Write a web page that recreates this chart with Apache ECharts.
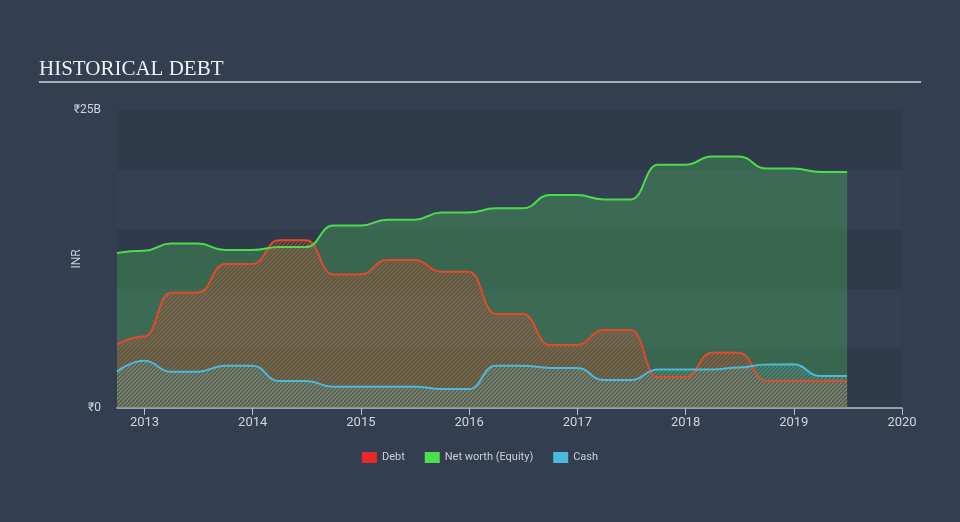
<!DOCTYPE html>
<html>
<head>
<meta charset="utf-8">
<script src="https://cdn.jsdelivr.net/npm/echarts@6/dist/echarts.min.js"></script>
<style>
  html, body { margin: 0; padding: 0; background: #333f50; }
  #chart { width: 960px; height: 522px; }
</style>
</head>
<body>
<div id="chart"></div>
<script>
// reporting dates (plateau start / end)
var dates = ['2012-09-30','2012-12-31','2013-03-31','2013-06-30','2013-09-30','2013-12-31',
  '2014-03-31','2014-06-30','2014-09-30','2014-12-31','2015-03-31','2015-06-30',
  '2015-09-30','2015-12-31','2016-03-31','2016-06-30','2016-09-30','2016-12-31',
  '2017-03-31','2017-06-30','2017-09-30','2017-12-31','2018-03-31','2018-06-30',
  '2018-09-30','2018-12-31','2019-03-31','2019-06-30'];
// values in ₹ billions
var debt = [5.34, 6.0, 9.67, 9.67, 12.08, 12.08, 14.07, 14.07, 11.21, 11.21, 12.42, 12.42,
  11.44, 11.44, 7.89, 7.89, 5.29, 5.29, 6.54, 6.54, 2.57, 2.57, 4.64, 4.64,
  2.29, 2.29, 2.29, 2.29];
var equity = [13.0, 13.2, 13.8, 13.8, 13.25, 13.25, 13.5, 13.5, 15.3, 15.3, 15.8, 15.8,
  16.4, 16.4, 16.75, 16.75, 17.87, 17.87, 17.5, 17.5, 20.4, 20.4, 21.1, 21.1,
  20.1, 20.1, 19.8, 19.8];
var cash = [3.05, 3.97, 3.05, 3.05, 3.55, 3.55, 2.26, 2.26, 1.79, 1.79, 1.79, 1.79,
  1.59, 1.59, 3.55, 3.55, 3.36, 3.36, 2.35, 2.35, 3.24, 3.24, 3.24, 3.4,
  3.65, 3.66, 2.68, 2.68];
var yearTicks = [2013, 2014, 2015, 2016, 2017, 2018, 2019, 2020];

// date string -> decimal year
function toYear(s) {
  var d = new Date(s + 'T00:00:00Z');
  var y = d.getUTCFullYear();
  var start = Date.UTC(y, 0, 1), end = Date.UTC(y + 1, 0, 1);
  return y + (d.getTime() - start) / (end - start);
}

function pairs(vals) {
  return dates.map(function (d, i) { return [toYear(d), vals[i]]; });
}

function hatch(color) {
  var c = document.createElement('canvas');
  c.width = 4; c.height = 4;
  var ctx = c.getContext('2d');
  ctx.strokeStyle = color;
  ctx.lineWidth = 1.3;
  ctx.beginPath();
  ctx.moveTo(0, 4); ctx.lineTo(4, 0);
  ctx.moveTo(-1, 1); ctx.lineTo(1, -1);
  ctx.moveTo(3, 5); ctx.lineTo(5, 3);
  ctx.stroke();
  return { image: c, repeat: 'repeat' };
}

var myChart = echarts.init(document.getElementById('chart'));
var lineBase = { type: 'line', smooth: 0.5, smoothMonotone: 'x', symbol: 'none' };

var option = {
  backgroundColor: '#333f50',
  animation: false,
  title: {
    text: 'HISTORICAL DEBT',
    left: 34, top: 54,
    textStyle: { fontFamily: 'Liberation Serif', fontWeight: 'normal', fontSize: 21, color: '#eef0f2' }
  },
  graphic: [{
    type: 'line', shape: { x1: 39, y1: 82, x2: 921, y2: 82 },
    style: { stroke: '#a9b0b8', lineWidth: 2 }
  }],
  legend: {
    bottom: 54, left: 'center',
    icon: 'rect', itemWidth: 15, itemHeight: 11, itemGap: 20,
    textStyle: { color: '#c8ced6', fontSize: 11, fontFamily: 'Roboto' },
    data: [
      { name: 'Debt', itemStyle: { color: '#e8282a' } },
      { name: 'Net worth (Equity)', itemStyle: { color: '#4be04b' } },
      { name: 'Cash', itemStyle: { color: '#4ab9dc' } }
    ]
  },
  grid: { left: 117, right: 58, top: 110, bottom: 114 },
  xAxis: {
    type: 'value',
    min: toYear('2012-09-30'), max: 2020,
    axisLine: { lineStyle: { color: '#b8c0c8', width: 1.5 } },
    axisTick: { show: true, length: 7, lineStyle: { color: '#b8c0c8' }, customValues: yearTicks },
    axisLabel: {
      color: '#d0d5dc', fontSize: 13, fontFamily: 'Roboto', margin: 8,
      customValues: yearTicks,
      formatter: function (v) { return String(Math.round(v)); }
    },
    splitLine: { show: false }
  },
  yAxis: {
    type: 'value', min: 0, max: 25, interval: 5,
    name: 'INR', nameLocation: 'middle', nameGap: 34, nameRotate: 90,
    nameMoveOverlap: false,
    nameTextStyle: { color: '#c8ced6', fontSize: 12, fontFamily: 'Roboto' },
    axisLine: { show: false }, axisTick: { show: false },
    axisLabel: {
      color: '#d0d5dc', fontSize: 12, fontFamily: 'Roboto', margin: 16,
      formatter: function (v) { return v === 0 ? '₹0' : (v === 25 ? '₹25B' : ''); }
    },
    splitLine: { show: false },
    splitArea: { show: true, areaStyle: { color: ['#2f3b4b', '#344152'] } }
  },
  series: [
    Object.assign({}, lineBase, {
      name: 'Net worth (Equity)', data: pairs(equity), z: 1,
      lineStyle: { width: 0 }, areaStyle: { color: 'rgba(78,182,89,0.35)', opacity: 1 }
    }),
    Object.assign({}, lineBase, {
      name: 'Debt', data: pairs(debt), z: 2,
      lineStyle: { width: 0 }, areaStyle: { color: hatch('rgba(215,78,50,0.65)'), opacity: 1 }
    }),
    Object.assign({}, lineBase, {
      name: 'Cash', data: pairs(cash), z: 3,
      lineStyle: { width: 0 }, areaStyle: { color: hatch('rgba(120,190,205,0.4)'), opacity: 1 }
    }),
    Object.assign({}, lineBase, {
      name: 'Debt', data: pairs(debt), z: 4,
      lineStyle: { color: '#e34a2c', width: 2 }, itemStyle: { color: '#e34a2c' }
    }),
    Object.assign({}, lineBase, {
      name: 'Net worth (Equity)', data: pairs(equity), z: 5,
      lineStyle: { color: '#4ddb4d', width: 2 }, itemStyle: { color: '#4ddb4d' }
    }),
    Object.assign({}, lineBase, {
      name: 'Cash', data: pairs(cash), z: 6,
      lineStyle: { color: '#4ab9dc', width: 2 }, itemStyle: { color: '#4ab9dc' }
    })
  ]
};
myChart.setOption(option);
</script>
</body>
</html>
